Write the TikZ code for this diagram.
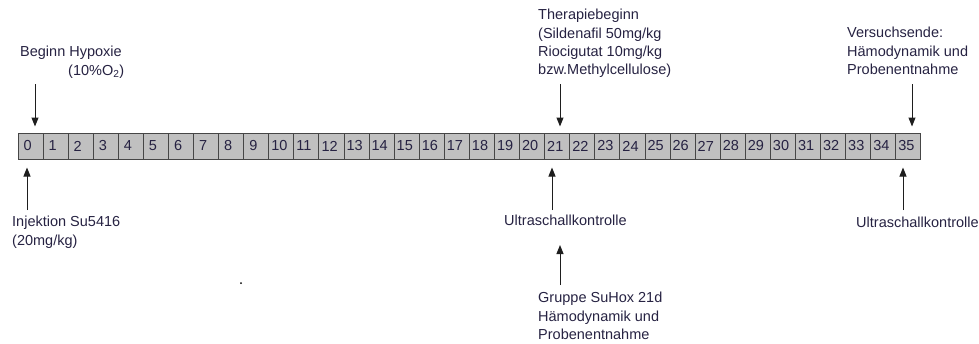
\documentclass[tikz,border=0pt]{standalone}
\usepackage{fontspec}
\setmainfont{Liberation Sans}
\usetikzlibrary{arrows.meta}
\definecolor{txt}{RGB}{38,34,66}
\definecolor{cellfill}{RGB}{192,192,192}
\definecolor{celldraw}{RGB}{70,70,70}
\definecolor{arrc}{RGB}{30,30,30}
\begin{document}
\begin{tikzpicture}[x=1pt,y=-1pt,
  every node/.style={text=txt,font=\fontsize{14.5}{18.3}\selectfont},
  cell/.style={draw=celldraw,line width=1pt,fill=cellfill,minimum width=25.08pt,
    minimum height=26pt,inner xsep=2.5pt,inner ysep=0pt,text width=20pt,align=left},
  lbl/.style={anchor=north west,inner sep=0pt,align=left},
  arr/.style={draw=arrc,line width=1pt,-{Triangle[length=9pt,width=7pt]}}]
\useasboundingbox (0,0) rectangle (979,343);
\foreach \i in {0,...,35}
  \node[cell] (c\i) at ({30.54+25.08*\i},146) {\ifnum\i<10\hspace*{3pt}\fi\i};
% labels
\node[lbl] (hyp) at (20,46) {Beginn Hypoxie\\\hspace*{48pt}(10\%O\textsubscript{2})};
\node[lbl] (inj) at (12,216) {Injektion Su5416\\(20mg/kg)};
\node[lbl] (ther) at (538,9) {Therapiebeginn\\(Sildenafil 50mg/kg\\Riocigutat 10mg/kg\\bzw.Methylcellulose)};
\node[lbl] (us21) at (504,215) {Ultraschallkontrolle};
\node[lbl] (grp) at (538,292) {Gruppe SuHox 21d\\H\"amodynamik und\\Probenentnahme};
\node[lbl] (end) at (847,27) {Versuchsende:\\H\"amodynamik und\\Probenentnahme};
\node[lbl] (us35) at (856,217) {Ultraschallkontrolle};
% arrow start points
\coordinate (a1) at (35,84);
\coordinate (a2) at (27,210);
\coordinate (a3) at (560,84);
\coordinate (a4) at (552,210);
\coordinate (a5) at (560,285);
\coordinate (a5t) at (560,245);
\coordinate (a6) at (912,84);
\coordinate (a7) at (903,210);
\draw[arr,shorten >=6pt] (a1) -- (a1 |- c0.north);
\draw[arr,shorten >=8pt] (a2) -- (a2 |- c0.south);
\draw[arr,shorten >=6pt] (a3) -- (a3 |- c21.north);
\draw[arr,shorten >=8pt] (a4) -- (a4 |- c21.south);
\draw[arr] (a5) -- (a5t);
\draw[arr,shorten >=6pt] (a6) -- (a6 |- c35.north);
\draw[arr,shorten >=8pt] (a7) -- (a7 |- c35.south);
\fill[black] (241,283) circle (1pt);
\end{tikzpicture}
\end{document}
